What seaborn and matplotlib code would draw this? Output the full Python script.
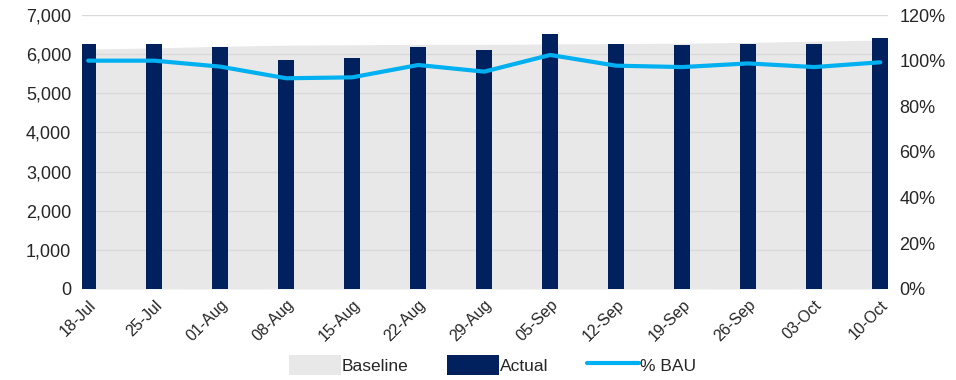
import numpy as np
import pandas as pd
import matplotlib
matplotlib.use("Agg")
import matplotlib.pyplot as plt
import seaborn as sns
from matplotlib.patches import Patch
from matplotlib.lines import Line2D
from matplotlib.ticker import FuncFormatter

weeks = ["18-Jul", "25-Jul", "01-Aug", "08-Aug", "15-Aug", "22-Aug", "29-Aug",
         "05-Sep", "12-Sep", "19-Sep", "26-Sep", "03-Oct", "10-Oct"]
baseline = [6130, 6160, 6200, 6230, 6240, 6250, 6250, 6260, 6270, 6280, 6300, 6330, 6360]
actual = [6270, 6270, 6170, 5850, 5890, 6170, 6100, 6510, 6270, 6225, 6270, 6270, 6420]
pct_bau = [100.0, 100.0, 97.4, 92.3, 92.7, 98.1, 95.2, 102.5, 97.8, 97.2, 98.8, 97.2, 99.3]

df = pd.DataFrame({"week": weeks, "baseline": baseline, "actual": actual, "pct": pct_bau})
df["pos"] = np.arange(len(df))

sns.set_style("white")
plt.rcParams["font.family"] = ["Liberation Sans", "DejaVu Sans"]

navy = "#00215E"
cyan = "#00B0F0"
grey = "#E8E8E8"
txt = "#262626"

fig, ax = plt.subplots(figsize=(9.56, 3.8), dpi=100)
fig.subplots_adjust(left=0.086, right=0.929, top=0.9605, bottom=0.2395)

# baseline area
ax.fill_between(df["pos"], 0, df["baseline"], color=grey, lw=0, zorder=1)

# actual bars
sns.barplot(data=df, x="week", y="actual", color=navy, width=0.25,
            saturation=1, linewidth=0, edgecolor=navy, ax=ax, zorder=2)

ax.set_ylim(0, 7000)
ax.set_yticks(np.arange(0, 7001, 1000))
ax.yaxis.set_major_formatter(FuncFormatter(lambda v, p: f"{int(v):,}"))
ax.set_xlim(-0.09, 12.12)
for y in range(1000, 7001, 1000):
    ax.axhline(y, color="#D9D9D9", lw=1, zorder=1.5)
ax.set_xlabel("")
ax.set_ylabel("")
for s in ax.spines.values():
    s.set_visible(False)
ax.tick_params(axis="y", labelsize=13, colors=txt, length=0, pad=8)
ax.tick_params(axis="x", labelsize=11.5, colors=txt, length=0, pad=6)
plt.setp(ax.get_xticklabels(), rotation=45, ha="right", rotation_mode="anchor")

# % BAU line on right axis
ax2 = ax.twinx()
sns.lineplot(x=df["pos"], y=df["pct"], color=cyan, lw=3, ax=ax2, zorder=3)
ax2.set_ylim(0, 120)
ax2.set_yticks(np.arange(0, 121, 20))
ax2.yaxis.set_major_formatter(FuncFormatter(lambda v, p: f"{int(v)}%"))
ax2.set_xlim(-0.09, 12.12)
ax2.set_ylabel("")
ax2.set_xlabel("")
for s in ax2.spines.values():
    s.set_visible(False)
ax2.tick_params(axis="y", labelsize=13, colors=txt, length=0, pad=8)
ax2.grid(False)

handles = [Patch(facecolor=grey, edgecolor="none", label="Baseline"),
           Patch(facecolor=navy, edgecolor="none", label="Actual"),
           Line2D([0], [0], color=cyan, lw=3, label="% BAU")]
fig.legend(handles=handles, loc="center", bbox_to_anchor=(0.515, 0.04), ncol=3,
           frameon=False, fontsize=12.5, handlelength=3.0, handleheight=1.4,
           columnspacing=2.2, handletextpad=0.05, labelcolor=txt)

fig.savefig("out.png", dpi=100)
